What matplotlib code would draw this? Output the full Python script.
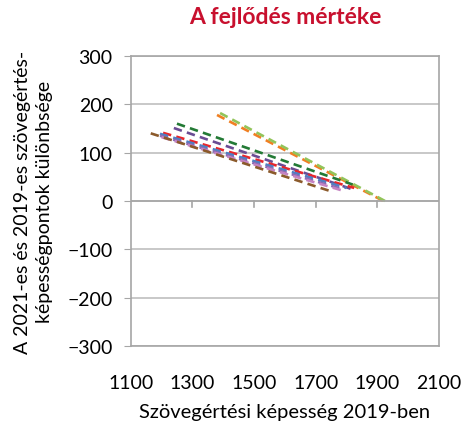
import matplotlib
matplotlib.use("Agg")
import matplotlib.pyplot as plt

plt.rcParams['font.family'] = ['Lato', 'DejaVu Sans']

# series: start and end points (x = 2019 score, y = difference)
names = ["orange", "lightgreen", "darkgreen", "darkpurple", "red", "blue", "lilac", "pink", "brown"]
x_start = [1380, 1390, 1250, 1240, 1205, 1195, 1195, 1200, 1165]
y_start = [178, 182, 160, 151, 141, 139, 135, 132, 140]
x_end = [1920, 1925, 1820, 1815, 1825, 1800, 1790, 1785, 1745]
y_end = [0, 0, 34, 25, 27, 27, 24, 22, 21]
colors = ["#F07F22", "#92C45A", "#237A35", "#6A4C93", "#E8262B", "#4F7FC2", "#8A6AB4", "#C583C2", "#8B5A2B"]

x_ticks = [1100, 1300, 1500, 1700, 1900, 2100]
y_ticks = [-300, -200, -100, 0, 100, 200, 300]

fig = plt.figure(figsize=(4.76, 4.27), dpi=100)
ax = fig.add_axes([0.2746, 0.1874, 0.6476, 0.6791])

for xs, ys, xe, ye, c in zip(x_start, y_start, x_end, y_end, colors):
    ax.plot([xs, xe], [ys, ye], color=c, lw=1.9, linestyle=(0, (3.2, 2.0)), dash_capstyle='butt')

ax.set_xlim(1100, 2100)
ax.set_ylim(-300, 300)
ax.set_xticks(x_ticks)
ax.set_yticks(y_ticks)
ax.set_yticklabels([f"{v}".replace("-", "\u2212") for v in y_ticks])
ax.grid(axis='y', color='#BFBFBF', lw=1.2)
ax.set_axisbelow(True)
for s in ax.spines.values():
    s.set_color('#A6A6A6')
    s.set_linewidth(1.2)
ax.tick_params(axis='y', length=5, color='#A6A6A6', labelsize=14, pad=8)
ax.tick_params(axis='x', length=0, labelsize=14, pad=20)
# x tick marks below the zero line
for xt in x_ticks[1:-1]:
    ax.plot([xt, xt], [0, -12], color='#A6A6A6', lw=1.2, clip_on=False)
ax.axhline(0, color='#A6A6A6', lw=1.2)

ax.set_xlabel("Szövegértési képesség 2019-ben", fontsize=14.5, labelpad=9)
ax.set_ylabel("A 2021-es és 2019-es szövegértés-\nképességpontok különbsége", fontsize=14,
              labelpad=10, linespacing=1.35)
ax.set_title("A fejlődés mértéke", fontsize=16.5, fontweight='bold', color='#C8102E', pad=24)

fig.savefig("out.png", dpi=100)
